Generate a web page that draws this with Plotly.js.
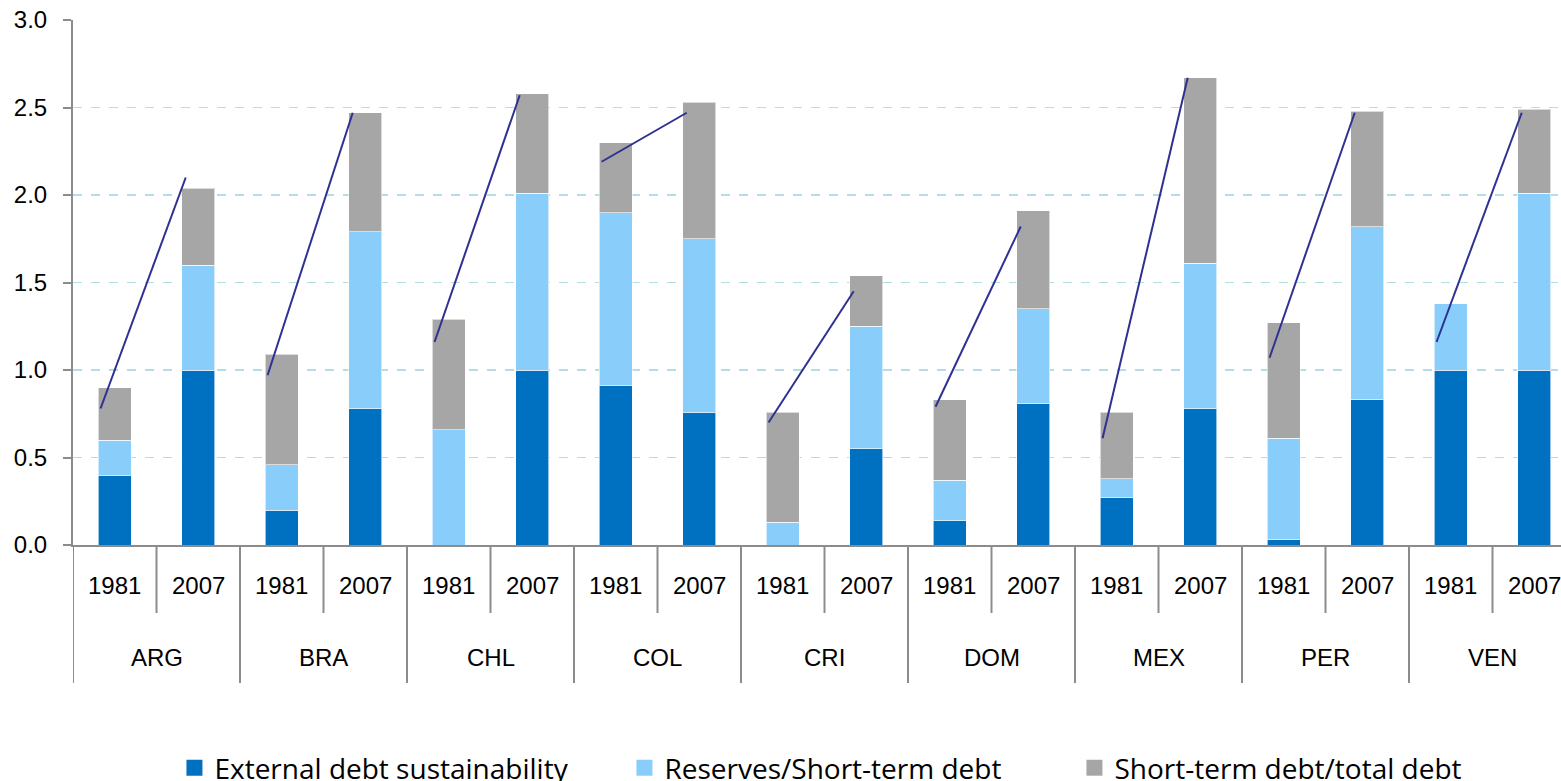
<!DOCTYPE html>
<html><head><meta charset="utf-8">
<script src="https://cdn.plot.ly/plotly-3.0.1.min.js"></script>
<style>html,body{margin:0;padding:0;overflow:hidden;background:#fff}#chart{width:1600px;height:781px}</style>
</head><body><div id="chart"></div>
<script>
const countries = ['ARG','BRA','CHL','COL','CRI','DOM','MEX','PER','VEN'];
const years = ['1981','2007'];
// values per country, 1981 then 2007
const externalDebt      = [0.40,1.00, 0.20,0.78, 0.00,1.00, 0.91,0.76, 0.00,0.55, 0.14,0.81, 0.27,0.78, 0.03,0.83, 1.00,1.00];
const reservesShortTerm = [0.20,0.60, 0.26,1.01, 0.66,1.01, 0.99,0.99, 0.13,0.70, 0.23,0.54, 0.11,0.83, 0.58,0.99, 0.38,1.01];
const shortTermTotal    = [0.30,0.44, 0.63,0.68, 0.63,0.57, 0.40,0.78, 0.63,0.29, 0.46,0.56, 0.38,1.06, 0.66,0.66, 0.00,0.48];
// trend line from 1981 to 2007 per country
const trendStart = [0.78,0.97,1.16,2.19,0.70,0.79,0.61,1.07,1.16];
const trendEnd   = [2.10,2.47,2.57,2.47,1.45,1.82,2.67,2.47,2.47];
const seriesNames = ['External debt sustainability','Reserves/Short-term debt','Short-term debt/total debt'];
const yTicks = [0,0.5,1,1.5,2,2.5,3];

const colors = ['#0070C0','#89CDFB','#A6A6A6'];
const axisGray = '#8c8c8c';
const labelFont = {family:'Liberation Sans, Arial, sans-serif', size:24, color:'#000'};

const xOuter = countries.flatMap(c => years.map(() => c));
const xInner = countries.flatMap(() => years.slice());
const nCat = xOuter.length;

const values = [externalDebt, reservesShortTerm, shortTermTotal];
const traces = values.map((v,k) => ({
  type:'bar', x:[xOuter, xInner], y:v, name:seriesNames[k], showlegend:false,
  marker:{color:colors[k], line:{color:'rgba(255,255,255,0.6)', width:1}},
  hoverinfo:'y+name'
}));
// legend entries with larger square swatches
seriesNames.forEach((n,k) => traces.push({type:'scatter', mode:'markers', x:[null], y:[null],
  xaxis:'x2', name:n, marker:{symbol:'square', size:16, color:colors[k]}, hoverinfo:'skip'}));

// trend lines on a numeric overlay axis
const lx = [], ly = [];
const offStart = -0.17, offEnd = -0.15;
countries.forEach((c,i) => {
  lx.push(2*i + offStart, 2*i + 1 + offEnd, null);
  ly.push(trendStart[i], trendEnd[i], null);
});
traces.push({type:'scatter', mode:'lines', x:lx, y:ly, xaxis:'x2', yaxis:'y',
  line:{color:'#2E3192', width:2}, showlegend:false, hoverinfo:'skip'});

const plotH = 525;
const px2paper = p => -p/plotH;
const annotations = [];
const shapes = [];
for (let j=0;j<nCat;j++){
  annotations.push({xref:'x2', yref:'paper', x:j, y:px2paper(40), text:xInner[j],
    showarrow:false, font:labelFont, xanchor:'center', yanchor:'middle'});
}
countries.forEach((c,i) => {
  annotations.push({xref:'x2', yref:'paper', x:2*i+0.5, y:px2paper(112), text:c,
    showarrow:false, font:labelFont, xanchor:'center', yanchor:'middle'});
  shapes.push({type:'line', xref:'x2', yref:'paper', x0:2*i+0.5, x1:2*i+0.5, y0:0, y1:px2paper(68),
    line:{color:axisGray, width:2}});
});
for (let i=0;i<=countries.length;i++){
  shapes.push({type:'line', xref:'x2', yref:'paper', x0:2*i-0.5, x1:2*i-0.5, y0:0, y1:px2paper(138),
    line:{color:axisGray, width:2}});
}

const layout = {
  width:1600, height:781,
  margin:{l:73, r:24, t:20, b:236},
  barmode:'stack', bargap:0.6,
  paper_bgcolor:'#fff', plot_bgcolor:'#fff',
  showlegend:true,
  legend:{orientation:'h', x:0.5166, xanchor:'center', yref:'container', y:(781-768)/781, yanchor:'middle',
    font:{family:'Open Sans, sans-serif', size:28, color:'#000'}, entrywidth:405, entrywidthmode:'pixels',
    itemwidth:30, traceorder:'normal', itemsizing:'trace'},
  xaxis:{type:'multicategory', range:[-0.5, nCat-0.5], showticklabels:false, ticks:'',
    showline:true, linecolor:axisGray, linewidth:2, showgrid:false, showdividers:false, zeroline:false},
  xaxis2:{overlaying:'x', range:[-0.5, nCat-0.5], visible:false},
  yaxis:{range:[0,3], tickvals:yTicks, tickformat:'.1f', ticks:'outside', ticklen:8, tickwidth:2,
    tickcolor:axisGray, showline:true, linecolor:axisGray, linewidth:2,
    showgrid:true, gridcolor:'#B4DEE6', griddash:'dash', gridwidth:1.5, zeroline:false,
    tickfont:labelFont, ticklabelstandoff:11},
  annotations:annotations, shapes:shapes
};
Plotly.newPlot('chart', traces, layout, {displayModeBar:false, staticPlot:true});
</script></body></html>
